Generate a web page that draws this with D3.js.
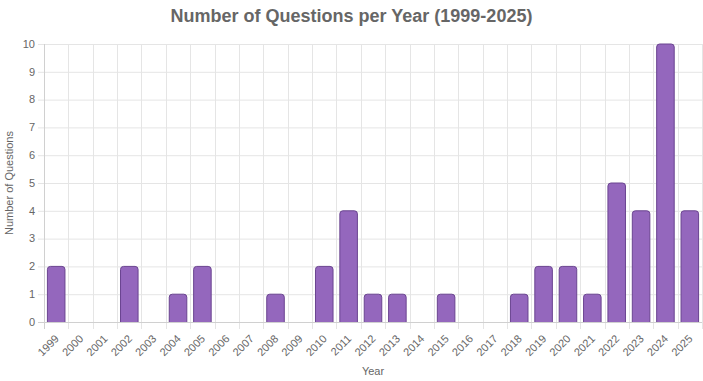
<!DOCTYPE html>
<html><head><meta charset="utf-8">
<script src="https://cdn.jsdelivr.net/npm/d3@7"></script>
<style>body{margin:0;background:#fff;} svg{display:block;font-family:"Liberation Sans",Arial,Helvetica,sans-serif;}</style>
</head><body>
<svg id="c" width="703" height="381"></svg>
<script>
const years = ["1999","2000","2001","2002","2003","2004","2005","2006","2007","2008","2009","2010","2011","2012","2013","2014","2015","2016","2017","2018","2019","2020","2021","2022","2023","2024","2025"];
const counts = [2,0,0,2,0,1,2,0,0,1,0,2,4,1,1,0,1,0,0,1,2,2,1,5,4,10,4];
const yTicks = [0,1,2,3,4,5,6,7,8,9,10];

const svg = d3.select("#c");
const L = 44, R = 702, T = 44, B = 322;
const x = d3.scaleBand().domain(years).range([L, R]).paddingInner(0).paddingOuter(0);
const y = d3.scaleLinear().domain([0, 10]).range([B, T]);
const grid = "#e5e5e5", txt = "#666";

// horizontal grid
svg.append("g").selectAll("line").data(yTicks).join("line")
  .attr("x1", L - 6).attr("x2", R).attr("y1", d => y(d) + 0.5).attr("y2", d => y(d) + 0.5)
  .attr("stroke", grid).attr("stroke-width", 1);
// vertical grid at category boundaries
const bounds = years.map(d => x(d)).concat([R]);
svg.append("g").selectAll("line").data(bounds).join("line")
  .attr("x1", d => Math.round(d) + 0.5).attr("x2", d => Math.round(d) + 0.5)
  .attr("y1", T).attr("y2", B + 7)
  .attr("stroke", grid).attr("stroke-width", 1);
// axis lines
svg.append("line").attr("x1", L + 0.5).attr("x2", L + 0.5).attr("y1", T).attr("y2", B + 7).attr("stroke", "#d0d0d0");
svg.append("line").attr("x1", L - 6).attr("x2", R).attr("y1", B + 0.5).attr("y2", B + 0.5).attr("stroke", "#d0d0d0");

// y tick labels
svg.append("g").selectAll("text").data(yTicks).join("text")
  .attr("x", L - 9).attr("y", d => y(d)).attr("dy", "0.35em")
  .attr("text-anchor", "end").attr("font-size", 11).attr("fill", txt).text(d => d);

// x tick labels
svg.append("g").selectAll("text").data(years).join("text")
  .attr("transform", d => `translate(${x(d) + x.bandwidth() / 2 - 2},${B + 12}) rotate(-45)`)
  .attr("text-anchor", "end").attr("dy", "0.7em").attr("font-size", 11).attr("fill", txt).text(d => d);

// bars
const bw = x.bandwidth() * 0.72;
const r = 3;
function barPath(x0, y0, w, h) {
  if (h <= 0) return "";
  const rr = Math.min(r, h, w / 2);
  return `M${x0},${y0 + h}V${y0 + rr}Q${x0},${y0} ${x0 + rr},${y0}H${x0 + w - rr}Q${x0 + w},${y0} ${x0 + w},${y0 + rr}V${y0 + h}`;
}
const data = years.map((d, i) => ({ year: d, v: counts[i] }));
svg.append("g").selectAll("path").data(data.filter(d => d.v > 0)).join("path")
  .attr("d", d => {
    const x0 = x(d.year) + (x.bandwidth() - bw) / 2;
    return barPath(x0, y(d.v), bw, y(0) - y(d.v)) ;
  })
  .attr("fill", "#9467bd").attr("stroke", "#6a4490").attr("stroke-width", 1);

// title
svg.append("text").attr("x", 351.5).attr("y", 22).attr("text-anchor", "middle")
  .attr("font-size", 18).attr("font-weight", "bold").attr("fill", txt)
  .text("Number of Questions per Year (1999-2025)");
// axis titles
svg.append("text").attr("transform", `translate(13,${(T + B) / 2}) rotate(-90)`)
  .attr("text-anchor", "middle").attr("font-size", 11).attr("fill", txt).text("Number of Questions");
svg.append("text").attr("x", (L + R) / 2).attr("y", 375).attr("text-anchor", "middle")
  .attr("font-size", 11).attr("fill", txt).text("Year");
</script>
</body></html>
